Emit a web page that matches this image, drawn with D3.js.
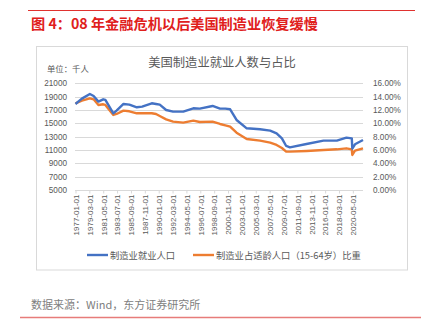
<!DOCTYPE html>
<html><head><meta charset="utf-8">
<script src="https://cdn.jsdelivr.net/npm/d3@7/dist/d3.min.js"></script>
<style>
html,body{margin:0;padding:0;background:#fff;}
svg{display:block;}
</style></head>
<body>
<svg id="c" width="426" height="323"></svg>
<script>
const dates = ["1977-01","1978-01","1979-04","1979-11","1980-08","1981-05","1981-09","1982-12","1983-06","1984-07","1985-06","1986-08","1987-06","1988-12","1989-08","1990-03","1991-03","1992-04","1993-11","1995-06","1996-06","1998-06","1999-08","2000-06","2001-03","2002-03","2003-10","2005-11","2007-06","2008-06","2009-04","2009-12","2010-07","2013-02","2015-10","2017-11","2019-05","2020-03","2020-04","2020-09","2021-12"];
const employment = [17900,18700,19400,19100,18250,18600,18500,16500,16900,17900,17800,17400,17500,18000,17900,17800,17000,16750,16750,17250,17200,17600,17200,17200,17100,15500,14250,14100,13900,13500,12750,11600,11400,11900,12400,12400,12850,12750,11200,11850,12500];
const share = [13.0,13.4,13.75,13.6,12.75,12.85,12.75,11.25,11.4,11.9,11.8,11.5,11.5,11.5,11.4,11.1,10.6,10.25,10.1,10.4,10.2,10.25,9.9,9.7,9.5,8.6,7.65,7.4,7.1,6.75,6.3,5.75,5.75,5.85,6.0,6.1,6.25,6.1,5.25,5.9,6.25];
const xTickLabels = ["1977-01-01","1979-03-01","1981-05-01","1983-07-01","1985-09-01","1987-11-01","1990-01-01","1992-03-01","1994-05-01","1996-07-01","1998-09-01","2000-11-01","2003-01-01","2005-03-01","2007-05-01","2009-07-01","2011-09-01","2013-11-01","2016-01-01","2018-03-01","2020-05-01"];
const leftTicks = [5000,7000,9000,11000,13000,15000,17000,19000,21000];
const rightTicks = [0,2,4,6,8,10,12,14,16];
const seriesNames = ["制造业就业人口","制造业占适龄人口（15-64岁）比重"];
const colors = ["#4472C4","#ED7D31"];

const svg = d3.select("#c");
const parse = d3.timeParse("%Y-%m");
const parseFull = d3.timeParse("%Y-%m-%d");
const cjk = "'Noto Sans CJK SC','Noto Sans',sans-serif";
const num = "'Liberation Sans',Arial,sans-serif";

// top red rule and title
svg.append("line").attr("x1",28).attr("x2",415).attr("y1",10.5).attr("y2",10.5)
  .attr("stroke","#E0322F").attr("stroke-width",1);
svg.append("text").attr("x",31).attr("y",29).attr("fill","#E0201C")
  .attr("font-family",cjk).attr("font-weight","bold").attr("font-size",14.2)
  .text("图 4：08 年金融危机以后美国制造业恢复缓慢");

// chart frame
svg.append("rect").attr("x",36.5).attr("y",46.5).attr("width",371).attr("height",223.5)
  .attr("fill","#fff").attr("stroke","#d9d9d9").attr("stroke-width",1);

svg.append("text").attr("x",222).attr("y",67).attr("text-anchor","middle")
  .attr("fill","#595959").attr("font-family",cjk).attr("font-size",12.3)
  .text("美国制造业就业人数与占比");
svg.append("text").attr("x",47).attr("y",72).attr("fill","#595959")
  .attr("font-family",cjk).attr("font-size",8.4).text("单位：千人");

const x = d3.scaleTime().domain([parse("1977-01"), parse("2021-12")]).range([75.5, 363]);
const yL = d3.scaleLinear().domain([5000,21000]).range([190,83.3]);
const yR = d3.scaleLinear().domain([0,16]).range([190,83.3]);

// gridlines
svg.append("g").selectAll("line").data(leftTicks).join("line")
  .attr("x1",75).attr("x2",363).attr("y1",d=>Math.round(yL(d))+0.5).attr("y2",d=>Math.round(yL(d))+0.5)
  .attr("stroke","#d9d9d9").attr("stroke-width",1);

// left axis
const gL = svg.append("g").attr("transform","translate(71,0)")
  .call(d3.axisLeft(yL).tickValues(leftTicks).tickSize(0).tickPadding(4).tickFormat(d3.format("d")));
gL.select(".domain").remove();
gL.selectAll("text").attr("fill","#595959").attr("font-family",num).attr("font-size",8.2);

// right axis
const gR = svg.append("g").attr("transform","translate(369,0)")
  .call(d3.axisRight(yR).tickValues(rightTicks).tickSize(0).tickPadding(4).tickFormat(d=>d3.format(".2f")(d)+"%"));
gR.select(".domain").remove();
gR.selectAll("text").attr("fill","#595959").attr("font-family",num).attr("font-size",8.2);

// bottom axis
const gX = svg.append("g").attr("transform","translate(0,190.5)")
  .call(d3.axisBottom(x).tickValues(xTickLabels.map(s=>parseFull(s))).tickSize(3).tickPadding(3)
    .tickFormat((d,i)=>xTickLabels[i]));
gX.select(".domain").remove();
gX.selectAll(".tick line").attr("stroke","#d9d9d9");
gX.selectAll("text").attr("fill","#595959").attr("font-family",num).attr("font-size",8)
  .attr("text-anchor","end").attr("transform","rotate(-90)").attr("x",-4).attr("y",0).attr("dy","0.35em");

// lines
const pts = dates.map(parse);
const lineL = d3.line().x((d,i)=>x(pts[i])).y(d=>yL(d)).curve(d3.curveLinear);
const lineR = d3.line().x((d,i)=>x(pts[i])).y(d=>yR(d)).curve(d3.curveLinear);
svg.append("path").attr("d",lineR(share)).attr("fill","none").attr("stroke",colors[1])
  .attr("stroke-width",2.4).attr("stroke-linejoin","round");
svg.append("path").attr("d",lineL(employment)).attr("fill","none").attr("stroke",colors[0])
  .attr("stroke-width",2.4).attr("stroke-linejoin","round");

// legend
const legX = [87, 193];
seriesNames.forEach((n,i)=>{
  svg.append("line").attr("x1",legX[i]).attr("x2",legX[i]+21).attr("y1",255).attr("y2",255)
    .attr("stroke",colors[i]).attr("stroke-width",2.4);
  svg.append("text").attr("x",legX[i]+23).attr("y",258.5).attr("fill","#595959")
    .attr("font-family",cjk).attr("font-size",9.3).text(n);
});

// source & bottom rule
svg.append("text").attr("x",31).attr("y",309).attr("fill","#808080")
  .attr("font-family",cjk).attr("font-size",11).text("数据来源：Wind，东方证券研究所");
svg.append("line").attr("x1",20).attr("x2",421).attr("y1",317.5).attr("y2",317.5)
  .attr("stroke","#E77C7A").attr("stroke-width",1.5);
</script>
</body></html>
